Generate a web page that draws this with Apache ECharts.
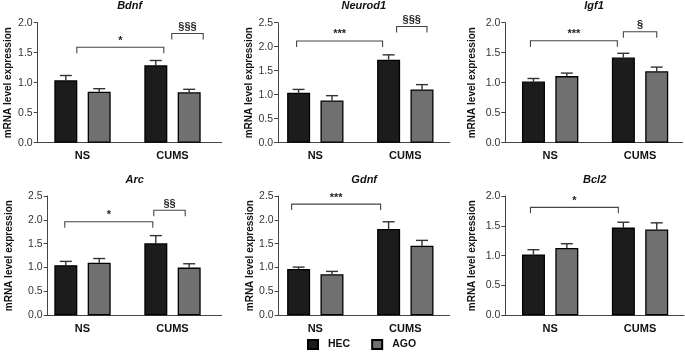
<!DOCTYPE html>
<html><head><meta charset="utf-8">
<script src="https://cdn.jsdelivr.net/npm/echarts@6/dist/echarts.min.js"></script>
<style>html,body{margin:0;padding:0;background:#fff}#c{width:685px;height:352px}</style>
</head><body><div id="c"></div>
<script>
// ---------------- data ----------------
const categories = ['NS', 'CUMS'];
const groups = ['HEC', 'AGO'];
const genes = ['Bdnf', 'Neurod1', 'Igf1', 'Arc', 'Gdnf', 'Bcl2'];
const yAxisTitle = 'mRNA level expression';
const yMaxValues = [2.0, 2.5, 2.0, 2.5, 2.5, 2.0];
const yTickStep = 0.5;
// means per gene: [NS, CUMS]
const hecMeans = [[1.04, 1.29], [1.04, 1.73], [1.02, 1.42], [1.05, 1.51], [0.97, 1.81], [1.02, 1.47]];
const hecUpper = [[1.12, 1.37], [1.11, 1.83], [1.07, 1.49], [1.13, 1.67], [1.01, 1.96], [1.10, 1.56]];
const agoMeans = [[0.85, 0.84], [0.88, 1.11], [1.11, 1.19], [1.10, 1.00], [0.86, 1.46], [1.13, 1.44]];
const agoUpper = [[0.90, 0.89], [0.98, 1.21], [1.16, 1.26], [1.19, 1.08], [0.92, 1.57], [1.20, 1.55]];
// significance brackets: [fromCategory, fromGroup, toCategory, toGroup, level, label]
const bdnfBrackets = [[0, 0, 1, 0, 1.59, '*'], [1, 0, 1, 1, 1.82, '§§§']];
const neurod1Brackets = [[0, 0, 1, 0, 2.12, '***'], [1, 0, 1, 1, 2.42, '§§§']];
const igf1Brackets = [[0, 0, 1, 0, 1.70, '***'], [1, 0, 1, 1, 1.85, '§']];
const arcBrackets = [[0, 0, 1, 0, 1.96, '*'], [1, 0, 1, 1, 2.20, '§§']];
const gdnfBrackets = [[0, 0, 1, 0, 2.33, '***']];
const bcl2Brackets = [[0, 0, 1, 0, 1.81, '*']];
const allBrackets = [bdnfBrackets, neurod1Brackets, igf1Brackets, arcBrackets, gdnfBrackets, bcl2Brackets];

// ---------------- layout / style ----------------
const barGridLeft = [37.5, 270.3, 505.2, 37.5, 270.3, 505.2];
const barGridWidth = 180;
const axisLeft = [37.7, 278, 505.3, 47.7, 278.7, 505.3];
const axisRight = [221.7, 449.7, 682.7, 221.7, 449.7, 684];
const rowTop = [22.7, 22.7, 22.7, 196, 196, 196];
const rowHeight = [120, 120, 120, 119.3, 119.3, 119.3];
const nameGaps = [24, 24, 28, 33, 23, 28];
const bracketNudges = [[[11, 8], [16, 14]], [[-2, -6], [8, 5]], [[-3, -6], [0, 0]], [[-1, -3], [-2, -4]], [[-7, -8]], [[-3, -5]]];
const BAR_W = 23, BAR_GAP = '45%', GROUP_OFF = 16.7, CAP_HALF = 6, TICK_DOWN = 6;
const FONT = 'Liberation Sans, Arial, Helvetica, sans-serif';
const fills = ['#1c1c1c', '#707070'];

const option = {
  animation: false,
  backgroundColor: '#fff',
  textStyle: { fontFamily: FONT },
  title: [], grid: [], xAxis: [], yAxis: [], series: [],
  legend: {
    data: groups, left: 307, top: 339, padding: 0, itemWidth: 10, itemHeight: 9, itemGap: 21,
    textStyle: { fontSize: 10.5, fontWeight: 'bold', color: '#111', padding: [0, 0, 0, 5] },
    icon: 'rect'
  }
};

genes.forEach((g, i) => {
  const gb = i * 2, ga = i * 2 + 1;
  option.grid.push({ left: barGridLeft[i], width: barGridWidth, top: rowTop[i], height: rowHeight[i] });
  option.grid.push({ left: axisLeft[i], width: axisRight[i] - axisLeft[i], top: rowTop[i], height: rowHeight[i] });
  option.title.push({
    text: g, left: (axisLeft[i] + axisRight[i]) / 2, top: rowTop[i] - 22, textAlign: 'center', padding: 0,
    textStyle: { fontFamily: FONT, fontSize: 11, fontWeight: 'bold', fontStyle: 'italic', color: '#111' }
  });
  option.xAxis.push({
    type: 'category', gridIndex: gb, data: categories,
    axisLine: { show: false }, axisTick: { show: false },
    axisLabel: { fontSize: 11, fontWeight: 'bold', color: '#111', margin: 8 }
  });
  option.xAxis.push({
    type: 'value', gridIndex: ga, min: 0, max: 1,
    axisLine: { show: true, lineStyle: { color: '#444', width: 1 } },
    axisTick: { show: false }, axisLabel: { show: false }, splitLine: { show: false }
  });
  option.yAxis.push({ type: 'value', gridIndex: gb, min: 0, max: yMaxValues[i], interval: yTickStep, show: false, splitLine: { show: false } });
  option.yAxis.push({
    type: 'value', gridIndex: ga, min: 0, max: yMaxValues[i], interval: yTickStep,
    name: yAxisTitle, nameLocation: 'middle', nameGap: nameGaps[i],
    nameTextStyle: { fontSize: 10, fontWeight: 'bold', color: '#111' },
    axisLine: { show: true, lineStyle: { color: '#444', width: 1 } },
    axisTick: { show: true, length: 4, lineStyle: { color: '#444' } },
    axisLabel: { fontSize: 10.5, color: '#333', margin: 5, formatter: v => v.toFixed(1) },
    splitLine: { show: false }
  });
  const meansArr = [hecMeans[i], agoMeans[i]];
  const upperArr = [hecUpper[i], agoUpper[i]];
  groups.forEach((name, s) => {
    option.series.push({
      type: 'bar', name, xAxisIndex: gb, yAxisIndex: gb, data: meansArr[s],
      barWidth: BAR_W, barGap: BAR_GAP, z: 3,
      itemStyle: { color: fills[s], borderColor: '#000', borderWidth: 1.3 }
    });
    option.series.push({
      type: 'custom', xAxisIndex: gb, yAxisIndex: gb, z: 2, silent: true,
      data: categories.map((c, k) => [k, meansArr[s][k], upperArr[s][k]]),
      renderItem: (params, api) => {
        const p0 = api.coord([api.value(0), api.value(1)]);
        const p1 = api.coord([api.value(0), api.value(2)]);
        const x = p0[0] + (s === 0 ? -GROUP_OFF : GROUP_OFF);
        return { type: 'group', children: [
          { type: 'line', shape: { x1: x, y1: p0[1], x2: x, y2: p1[1] }, style: { stroke: '#333', lineWidth: 1.4 } },
          { type: 'line', shape: { x1: x - CAP_HALF, y1: p1[1], x2: x + CAP_HALF, y2: p1[1] }, style: { stroke: '#333', lineWidth: 1.4 } }
        ]};
      }
    });
  });
  const br = allBrackets[i];
  option.series.push({
    type: 'custom', xAxisIndex: gb, yAxisIndex: gb, z: 4, silent: true,
    data: br.map((b, k) => [b[0], b[1], b[2], b[3], b[4], k]),
    renderItem: (params, api) => {
      const k = api.value(5);
      const b = br[k];
      const nud = bracketNudges[i][k];
      const a = api.coord([b[0], b[4]]);
      const c = api.coord([b[2], b[4]]);
      const x1 = a[0] + (b[1] === 0 ? -GROUP_OFF : GROUP_OFF) + nud[0];
      const x2 = c[0] + (b[3] === 0 ? -GROUP_OFF : GROUP_OFF) + nud[1];
      const y = a[1];
      return { type: 'group', children: [
        { type: 'polyline', shape: { points: [[x1, y + TICK_DOWN], [x1, y], [x2, y], [x2, y + TICK_DOWN]] }, style: { stroke: '#444', lineWidth: 1.1, fill: null } },
        { type: 'text', style: { text: b[5], x: (x1 + x2) / 2, y: y - 1, align: 'center', verticalAlign: 'bottom', fontSize: 11, fontWeight: 'bold', fill: '#222', fontFamily: FONT } }
      ]};
    }
  });
});

const chart = echarts.init(document.getElementById('c'), null, { renderer: 'canvas' });
chart.setOption(option);
</script></body></html>
